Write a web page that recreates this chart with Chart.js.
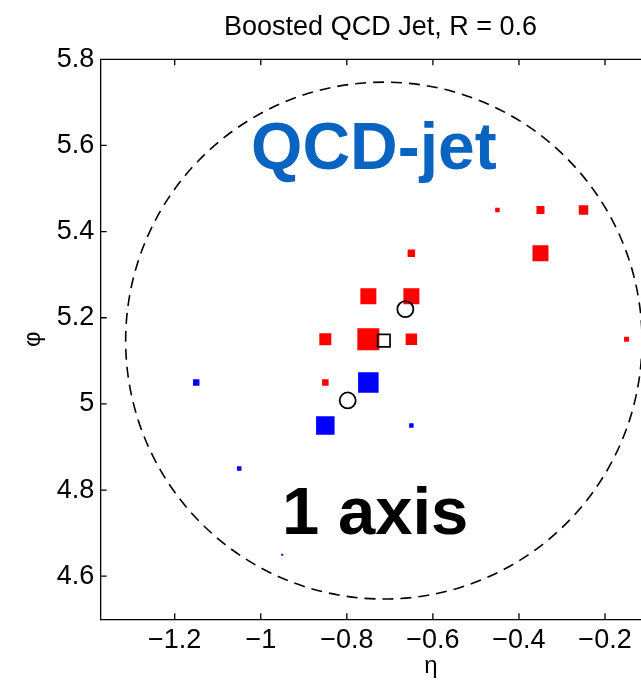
<!DOCTYPE html>
<html>
<head>
<meta charset="utf-8">
<title>Boosted QCD Jet, R = 0.6</title>
<script src="https://cdn.jsdelivr.net/npm/chart.js@4/dist/chart.umd.min.js"></script>
<style>
  html, body { margin: 0; padding: 0; background: #fff; overflow: hidden; }
  #wrap { width: 641px; height: 681px; overflow: hidden; position: relative; }
  canvas { display: block; }
</style>
</head>
<body>
<div id="wrap"><canvas id="c" width="761" height="681"></canvas></div>
<script>
// Calorimeter cells with positive weight (red): eta, phi, cell pT
const redEta = [-0.45, -0.35, -0.25, -0.65, -0.35, -0.75, -0.65, -0.85, -0.75, -0.65, -0.15, -0.85];
const redPhi = [ 5.45,  5.45,  5.45,  5.35,  5.35,  5.25,  5.25,  5.15,  5.15,  5.15,  5.15,  5.05];
const redPt  = [    9,    16,    19,    15,    32,    32,    32,    24,    44,    23,    10,    13];

// Calorimeter cells belonging to the second cluster (blue)
const blueEta = [-1.15, -0.75, -0.85, -0.65, -1.05, -0.95];
const bluePhi = [ 5.05,  5.05,  4.95,  4.95,  4.85,  4.65];
const bluePt  = [   13,    41,    37,     9,     9,     4];

// Candidate subjet axes (open circles)
const subjetEta = [-0.664, -0.798];
const subjetPhi = [ 5.220,  5.008];

// Jet axis (open square) and jet radius
const jetEta = [-0.714];
const jetPhi = [5.147];
const jetR = 0.6;

// Axis ticks
const xTicks = [-1.2, -1.0, -0.8, -0.6, -0.4, -0.2];
const xTickLabels = ['\u22121.2', '\u22121', '\u22120.8', '\u22120.6', '\u22120.4', '\u22120.2'];
const yTicks = [4.6, 4.8, 5.0, 5.2, 5.4, 5.6, 5.8];
const yTickLabels = ['4.6', '4.8', '5', '5.2', '5.4', '5.6', '5.8'];

const PX_PER_PT = 0.5;                       // marker side length per unit cell pT
const rectRadius = side => side / (2 * Math.SQRT1_2);

const pts = (xs, ys) => xs.map((v, i) => ({ x: v, y: ys[i] }));

Chart.defaults.font.family = "'Liberation Sans', Arial, Helvetica, sans-serif";
Chart.defaults.color = '#000';

// Dashed jet cone around the jet axis
const jetCone = {
  id: 'jetCone',
  beforeDatasetsDraw(chart, args, opts) {
    const { ctx, scales: { x, y } } = chart;
    const cx = x.getPixelForValue(opts.eta), cy = y.getPixelForValue(opts.phi);
    const rx = Math.abs(x.getPixelForValue(opts.eta + opts.r) - cx);
    const ry = Math.abs(y.getPixelForValue(opts.phi + opts.r) - cy);
    ctx.save();
    ctx.setLineDash([11, 7]);
    ctx.lineWidth = 1.6;
    ctx.strokeStyle = '#000';
    ctx.beginPath();
    ctx.ellipse(cx, cy, rx, ry, 0, 0, Math.PI * 2);
    ctx.stroke();
    ctx.restore();
  }
};

// Box around the plot with inward tick marks on every side
const frame = {
  id: 'frame',
  afterDraw(chart) {
    const { ctx, chartArea: a, scales: { x, y } } = chart;
    const T = 6;
    ctx.save();
    ctx.strokeStyle = '#000';
    ctx.lineWidth = 1.3;
    ctx.beginPath();
    ctx.moveTo(a.left, a.top);
    ctx.lineTo(a.right, a.top);
    ctx.lineTo(a.right, a.bottom);
    x.ticks.forEach(t => {
      const px = x.getPixelForValue(t.value);
      ctx.moveTo(px, a.bottom); ctx.lineTo(px, a.bottom - T);
      ctx.moveTo(px, a.top);    ctx.lineTo(px, a.top + T);
    });
    y.ticks.forEach(t => {
      const py = y.getPixelForValue(t.value);
      ctx.moveTo(a.left, py);  ctx.lineTo(a.left + T, py);
      ctx.moveTo(a.right, py); ctx.lineTo(a.right - T, py);
    });
    ctx.stroke();
    ctx.restore();
  }
};

// Text annotations placed in (eta, phi) coordinates
const notes = {
  id: 'notes',
  afterDatasetsDraw(chart, args, opts) {
    const { ctx, scales: { x, y } } = chart;
    ctx.save();
    ctx.textAlign = 'center';
    ctx.textBaseline = 'alphabetic';
    opts.items.forEach(n => {
      ctx.font = n.font;
      ctx.fillStyle = n.color;
      ctx.fillText(n.text, x.getPixelForValue(n.eta), y.getPixelForValue(n.phi));
    });
    ctx.restore();
  }
};

new Chart(document.getElementById('c'), {
  type: 'scatter',
  data: {
    datasets: [
      {
        label: 'cluster 1',
        order: 4,
        data: pts(redEta, redPhi),
        pointStyle: 'rect',
        pointRadius: redPt.map(p => rectRadius(p * PX_PER_PT)),
        backgroundColor: '#ff0000',
        borderWidth: 0
      },
      {
        label: 'cluster 2',
        order: 3,
        data: pts(blueEta, bluePhi),
        pointStyle: 'rect',
        pointRadius: bluePt.map(p => rectRadius(p * PX_PER_PT)),
        backgroundColor: '#0000ff',
        borderWidth: 0
      },
      {
        label: 'subjet axes',
        order: 2,
        data: pts(subjetEta, subjetPhi),
        pointStyle: 'circle',
        pointRadius: 8,
        backgroundColor: 'rgba(0,0,0,0)',
        borderColor: '#000',
        borderWidth: 1.8
      },
      {
        label: 'jet axis',
        order: 1,
        data: pts(jetEta, jetPhi),
        pointStyle: 'rect',
        pointRadius: rectRadius(12.4),
        backgroundColor: 'rgba(0,0,0,0)',
        borderColor: '#000',
        borderWidth: 1.7
      }
    ]
  },
  options: {
    responsive: false,
    animation: false,
    events: [],
    layout: { autoPadding: false, padding: { left: 0, right: 0, top: 0, bottom: 0 } },
    plugins: {
      legend: { display: false },
      tooltip: { enabled: false },
      title: {
        display: true,
        text: 'Boosted QCD Jet, R = 0.6',
        color: '#000',
        font: { size: 27, weight: 'normal' },
        padding: { top: 11.8, bottom: 15.1 }
      },
      jetCone: { eta: jetEta[0], phi: jetPhi[0], r: jetR },
      notes: {
        items: [
          { text: 'QCD-jet', eta: -0.737, phi: 5.545, color: '#0864c0', font: "bold 66px 'Liberation Sans', Arial, sans-serif" },
          { text: '1 axis',  eta: -0.734, phi: 4.699, color: '#000',    font: "bold 67px 'Liberation Sans', Arial, sans-serif" }
        ]
      }
    },
    scales: {
      x: {
        type: 'linear',
        position: 'bottom',
        bounds: 'data',
        min: -1.372,
        max: 0.1625,
        afterBuildTicks: s => { s.ticks = xTicks.map(v => ({ value: v })); },
        afterFit: s => { s.height = 61.7; s.paddingLeft = 0; s.paddingRight = 0; },
        grid: { display: false, drawTicks: false },
        border: { display: true, color: '#000', width: 1.3 },
        ticks: {
          autoSkip: false, maxRotation: 0, padding: 5.5,
          font: { size: 27 }, color: '#000',
          callback: (v, i) => xTickLabels[i]
        },
        title: {
          display: true, text: '\u03b7', color: '#000',
          font: { size: 24 }, padding: { top: 0, bottom: 0 }
        }
      },
      y: {
        type: 'linear',
        position: 'left',
        bounds: 'data',
        min: 4.5,
        max: 5.8,
        afterBuildTicks: s => { s.ticks = yTicks.map(v => ({ value: v })); },
        afterFit: s => { s.width = 100.7; },
        grid: { display: false, drawTicks: false },
        border: { display: true, color: '#000', width: 1.3 },
        ticks: {
          autoSkip: false, padding: 6.4,
          font: { size: 27 }, color: '#000',
          callback: (v, i) => yTickLabels[i]
        },
        title: {
          display: true, text: '\u03c6', color: '#000',
          font: { size: 24 }, padding: { top: 18.6, bottom: 0 }
        }
      }
    }
  },
  plugins: [jetCone, notes, frame]
});
</script>
</body>
</html>
